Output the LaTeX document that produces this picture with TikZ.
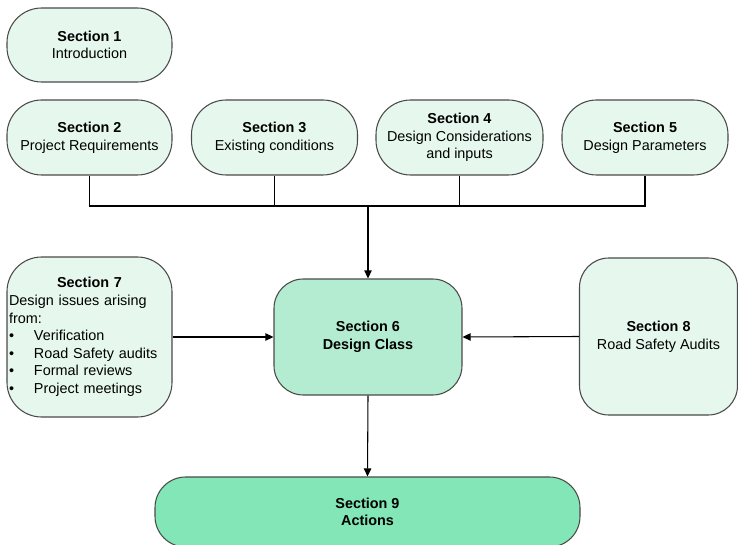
\documentclass[tikz,border=0pt]{standalone}
\usepackage{fontspec}
\setmainfont{Liberation Sans}
\usetikzlibrary{arrows.meta}
\definecolor{lightbox}{HTML}{E6F8EE}
\definecolor{midbox}{HTML}{B4ECD1}
\definecolor{darkbox}{HTML}{82E6B6}
\definecolor{edge}{HTML}{4A4A4A}
\tikzset{
  secbox/.style={draw=edge, line width=0.8pt, fill=lightbox, inner sep=1.5pt,
    align=center, font=\fontsize{10.8}{13.2}\selectfont},
  conn/.style={draw=black, line width=0.8pt},
  arr/.style={conn, -{Triangle[length=6pt,width=5.5pt]}},
}
\newcommand{\bul}{\makebox[18.75pt][l]{\textbullet}}
\begin{document}
\begin{tikzpicture}[x=0.75pt,y=-0.75pt]
\useasboundingbox[fill=white] (0,0) rectangle (738,545);
\node[secbox, minimum width=123.75pt, minimum height=55.5pt, rounded corners=26pt] (s1) at (89.5,45) {\textbf{Section 1}\\Introduction};
\node[secbox, minimum width=123.75pt, minimum height=56.25pt, rounded corners=26pt] (s2) at (89.5,137.5) {\textbf{Section 2}\\Project Requirements};
\node[secbox, minimum width=124.5pt, minimum height=56.25pt, rounded corners=26pt] (s3) at (274.5,137.5) {\textbf{Section 3}\\Existing conditions};
\node[secbox, minimum width=125.25pt, minimum height=56.25pt, rounded corners=26pt] (s4) at (459.5,137.5) {\textbf{Section 4}\\Design Considerations\\and inputs};
\node[secbox, minimum width=124.5pt, minimum height=56.25pt, rounded corners=26pt] (s5) at (645,137.5) {\textbf{Section 5}\\Design Parameters};
\node[secbox, fill=midbox, minimum width=141pt, minimum height=87pt, rounded corners=22pt] (s6) at (368,337) {\textbf{Section 6}\\\textbf{Design Class}};
\node[secbox, minimum width=123.75pt, minimum height=120pt, rounded corners=26pt, align=left, text width=120.75pt] (s7) at (89.5,337) {\makebox[\linewidth]{\textbf{Section 7}}\\Design issues arising\\from:\\\bul Verification\\\bul Road Safety audits\\\bul Formal reviews\\\bul Project meetings};
\node[secbox, minimum width=118.5pt, minimum height=117.75pt, rounded corners=22pt] (s8) at (658.5,336.5) {\textbf{Section 8}\\Road Safety Audits};
\node[secbox, fill=darkbox, minimum width=318.75pt, minimum height=52.5pt, rounded corners=23pt] (s9) at (367.5,512) {\textbf{Section 9}\\\textbf{Actions}};
\coordinate (bus) at (368,206);
\draw[conn] (s2.south) |- (bus) -| (s5.south);
\draw[conn] (s3.south) -- (s3.south |- bus);
\draw[conn] (s4.south) -- (s4.south |- bus);
\draw[arr] (bus) -- (s6.north);
\draw[arr] (s7.east) -- (s6.west);
\draw[arr] (s8.west) -- (s6.east);
\draw[arr] (s6.south) -- (s9.north);
\end{tikzpicture}
\end{document}
